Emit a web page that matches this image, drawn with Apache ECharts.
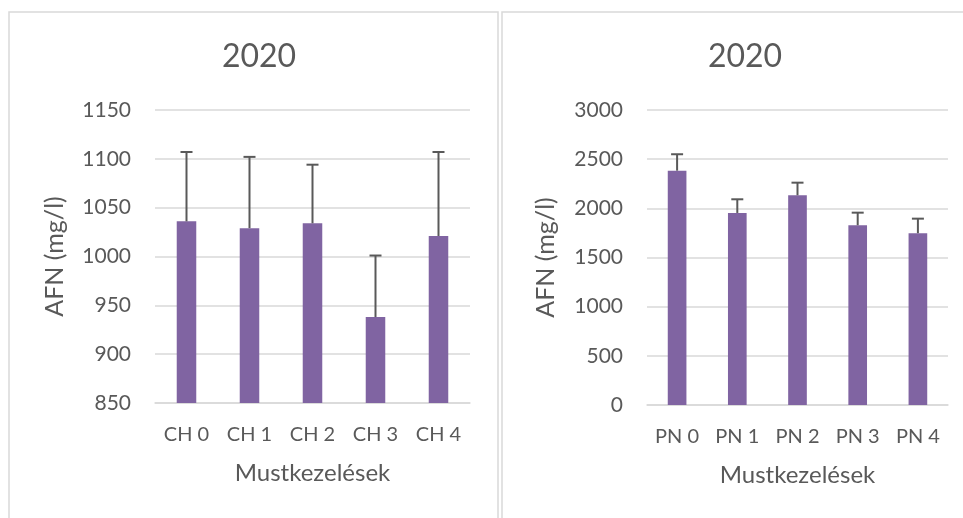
<!DOCTYPE html>
<html>
<head>
<meta charset="utf-8">
<script src="https://cdn.jsdelivr.net/npm/echarts@6/dist/echarts.min.js"></script>
<style>
html,body{margin:0;padding:0;background:#fff;}
#c{width:963px;height:518px;}
</style>
</head>
<body>
<div id="c"></div>
<script>
const chCategories = ['CH 0', 'CH 1', 'CH 2', 'CH 3', 'CH 4'];
const chValues = [1036, 1029, 1034, 938, 1021];
const chErrorTop = [1107, 1102, 1094, 1001, 1107];

const pnCategories = ['PN 0', 'PN 1', 'PN 2', 'PN 3', 'PN 4'];
const pnValues = [2383, 1953, 2133, 1828, 1747];
const pnErrorTop = [2550, 2092, 2261, 1956, 1895];

const titleText = '2020';
const yAxisName = 'AFN (mg/l)';
const xAxisName = 'Mustkezelések';

const FONT = 'Lato, "Open Sans", sans-serif';
const TXT = '#595959';
const GRID = '#d9d9d9';
const BAR = '#8064a2';

function errorSeries(xi, yi, base, tops) {
  return {
    type: 'custom',
    xAxisIndex: xi,
    yAxisIndex: yi,
    z: 5,
    silent: true,
    data: base.map((v, i) => [i, v, tops[i]]),
    renderItem: function (params, api) {
      const i = api.value(0);
      const p0 = api.coord([i, api.value(1)]);
      const p1 = api.coord([i, api.value(2)]);
      const hw = 6;
      const style = { stroke: TXT, lineWidth: 2 };
      return {
        type: 'group',
        children: [
          { type: 'line', shape: { x1: p0[0], y1: p0[1], x2: p1[0], y2: p1[1] }, style: style },
          { type: 'line', shape: { x1: p1[0] - hw, y1: p1[1], x2: p1[0] + hw, y2: p1[1] }, style: style }
        ]
      };
    }
  };
}

function xAxis(gi, cats) {
  return {
    type: 'category',
    gridIndex: gi,
    data: cats,
    axisLine: { show: true, lineStyle: { color: GRID, width: 1.5 } },
    axisTick: { show: false },
    axisLabel: { color: TXT, fontSize: 20, fontFamily: FONT, margin: 22 },
    name: xAxisName,
    nameLocation: 'middle',
    nameGap: 58,
    nameTextStyle: { color: TXT, fontSize: 24, fontFamily: FONT }
  };
}

function yAxis(gi, min, max, interval, gap) {
  return {
    type: 'value',
    gridIndex: gi,
    min: min, max: max, interval: interval,
    axisLine: { show: false },
    axisTick: { show: false },
    splitLine: { show: true, lineStyle: { color: GRID, width: 1.5 } },
    axisLabel: { color: TXT, fontSize: 21, fontFamily: FONT, margin: 24,
      formatter: function (v) { return String(v); } },
    name: yAxisName,
    nameLocation: 'middle',
    nameGap: gap,
    nameTextStyle: { color: TXT, fontSize: 25, fontFamily: FONT }
  };
}

const chart = echarts.init(document.getElementById('c'), null, { renderer: 'canvas' });
chart.setOption({
  backgroundColor: '#fff',
  animation: false,
  title: [
    { text: titleText, left: 254, top: 36, textAlign: 'center',
      textStyle: { color: TXT, fontSize: 32, fontWeight: 'normal', fontFamily: FONT } },
    { text: titleText, left: 740, top: 36, textAlign: 'center',
      textStyle: { color: TXT, fontSize: 32, fontWeight: 'normal', fontFamily: FONT } }
  ],
  grid: [
    { left: 155, right: 493, top: 110, bottom: 115 },
    { left: 647, right: 15, top: 110, bottom: 113 }
  ],
  xAxis: [xAxis(0, chCategories), xAxis(1, pnCategories)],
  yAxis: [yAxis(0, 850, 1150, 50, 88), yAxis(1, 0, 3000, 500, 89)],
  series: [
    { type: 'bar', xAxisIndex: 0, yAxisIndex: 0, data: chValues, barWidth: '31%',
      itemStyle: { color: BAR } },
    errorSeries(0, 0, chValues, chErrorTop),
    { type: 'bar', xAxisIndex: 1, yAxisIndex: 1, data: pnValues, barWidth: '31%',
      itemStyle: { color: BAR } },
    errorSeries(1, 1, pnValues, pnErrorTop)
  ],
  graphic: [
    { type: 'rect', shape: { x: 9, y: 12, width: 489, height: 520 },
      style: { fill: 'none', stroke: '#d9d9d9', lineWidth: 1.5 }, silent: true },
    { type: 'rect', shape: { x: 502, y: 12, width: 480, height: 520 },
      style: { fill: 'none', stroke: '#d9d9d9', lineWidth: 1.5 }, silent: true }
  ]
});
</script>
</body>
</html>
